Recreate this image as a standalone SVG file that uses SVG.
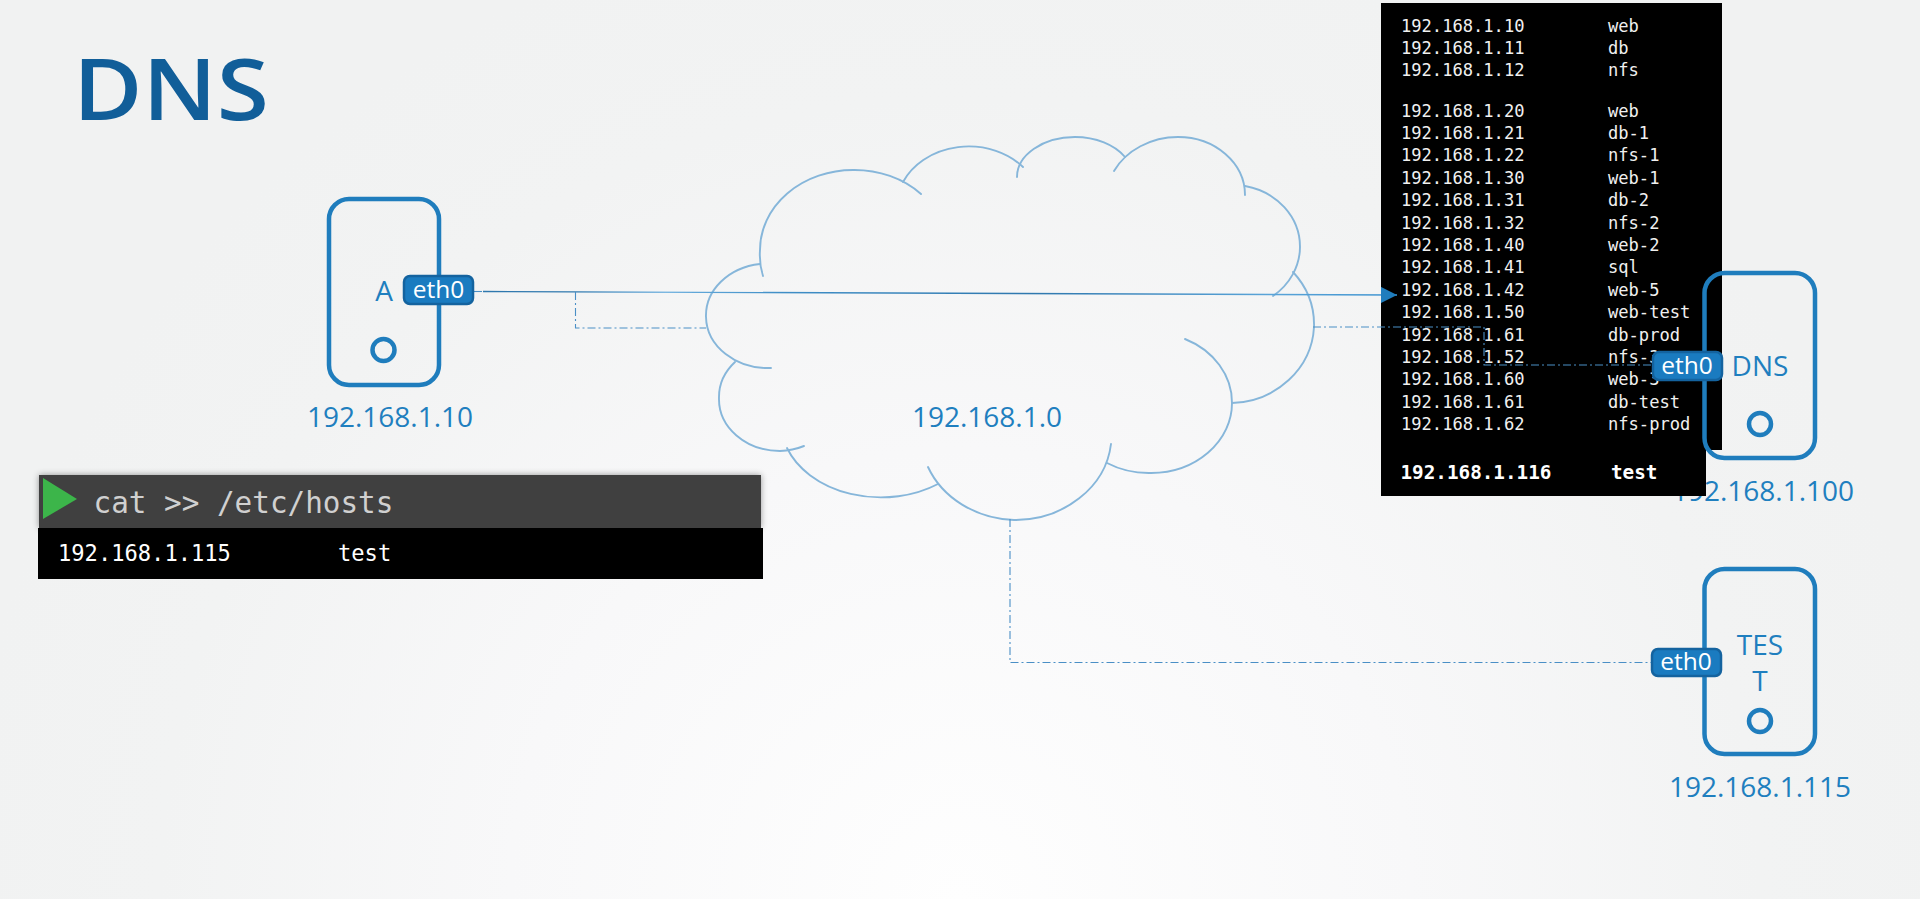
<svg xmlns="http://www.w3.org/2000/svg" width="1920" height="899" viewBox="0 0 1920 899">
<style>
.label{font-family:"Open Sans","Noto Sans",sans-serif;font-size:28px;fill:#1f7fbf;text-anchor:middle}
.box{fill:none;stroke:#1f7dbd;stroke-width:4.5}
.dot{fill:none;stroke:#1f7dbd;stroke-width:4.5}
.badge{fill:#1a7bc0;stroke:#14639f;stroke-width:2.5}
.bt{font-family:"Open Sans","Noto Sans",sans-serif;font-size:24.500px;fill:#fff;text-anchor:middle}
.hosts{font-family:"DejaVu Sans Mono","Liberation Mono",monospace;font-size:17.1px;fill:#f0f0f0}
.cloud{fill:none;stroke:#86b6da;stroke-width:1.9;stroke-linecap:round}
.dash{fill:none;stroke:#4a8fc6;stroke-width:1.1;stroke-dasharray:8 3 2 3}
</style>
<defs>
<radialGradient id="bg" gradientUnits="userSpaceOnUse" cx="960" cy="899" r="1000">
<stop offset="0" stop-color="#fefefe"/><stop offset="0.45" stop-color="#f8f8f9"/><stop offset="0.8" stop-color="#f2f3f3"/><stop offset="1" stop-color="#f1f2f2"/>
</radialGradient>
<linearGradient id="wire" gradientUnits="userSpaceOnUse" x1="483" y1="0" x2="1397" y2="0">
<stop offset="0" stop-color="#2f78ae"/><stop offset="0.1" stop-color="#2f78ae"/><stop offset="0.2" stop-color="#6aaede"/><stop offset="0.33" stop-color="#3f8ec6"/><stop offset="0.6" stop-color="#2f78ae"/><stop offset="0.86" stop-color="#5aa4d8"/><stop offset="1" stop-color="#3f94d0"/>
</linearGradient>
<filter id="sh" x="-5%" y="-30%" width="110%" height="160%"><feDropShadow dx="0" dy="0" stdDeviation="3" flood-color="#000" flood-opacity="0.4"/></filter>
<marker id="ah" markerUnits="userSpaceOnUse" markerWidth="18" markerHeight="18" refX="16" refY="8" orient="auto"><path d="M0,0L16,8L0,16Z" fill="#1f7dbd"/></marker>
</defs>
<rect width="1920" height="899" fill="url(#bg)"/>
<text x="73" y="120" font-family="'Open Sans','Noto Sans',sans-serif" font-size="85" font-weight="600" fill="#115e99" textLength="196" lengthAdjust="spacingAndGlyphs">DNS</text>
<g id="cloud">
<path class="cloud" d="M763,276A93,80 0 0 1 760,250A93,80 0 0 1 853,170A93,80 0 0 1 921,194"/>
<path class="cloud" d="M903,182A72,60 0 0 1 1023,167"/>
<path class="cloud" d="M1017,177A58,40 0 0 1 1075,137A58,40 0 0 1 1125,157"/>
<path class="cloud" d="M1114,171A72,62 0 0 1 1178,137A67,58 0 0 1 1245,195"/>
<path class="cloud" d="M1245,186A68,62 0 0 1 1300,247A68,62 0 0 1 1273,296"/>
<path class="cloud" d="M1293,272A85,80 0 0 1 1314,327A85,80 0 0 1 1232,403"/>
<path class="cloud" d="M1185,339A81,70 0 0 1 1232,403A81,70 0 0 1 1150,473A81,70 0 0 1 1107,463"/>
<path class="cloud" d="M1111,444A97,85 0 0 1 1014,520A97,85 0 0 1 928,467"/>
<path class="cloud" d="M938,484A100,75 0 0 1 787,448"/>
<path class="cloud" d="M804,446A61,52 0 0 1 780,451A61,52 0 0 1 719,398A61,52 0 0 1 735,362"/>
<path class="cloud" d="M771,368A62,52 0 0 1 706,317A62,52 0 0 1 760,264"/>
<text class="label" x="987" y="427">192.168.1.0</text>
</g>
<g id="node-dns-ip"><text class="label" x="1763" y="501">192.168.1.100</text></g>
<g id="hosts-panel">
<path d="M1381,3H1722V450H1706V496H1381Z" fill="#000"/>
<g class="hosts">
<text x="1401" y="32">192.168.1.10</text><text x="1608" y="32">web</text>
<text x="1401" y="54">192.168.1.11</text><text x="1608" y="54">db</text>
<text x="1401" y="76">192.168.1.12</text><text x="1608" y="76">nfs</text>
<text x="1401" y="117">192.168.1.20</text><text x="1608" y="117">web</text>
<text x="1401" y="139">192.168.1.21</text><text x="1608" y="139">db-1</text>
<text x="1401" y="161">192.168.1.22</text><text x="1608" y="161">nfs-1</text>
<text x="1401" y="184">192.168.1.30</text><text x="1608" y="184">web-1</text>
<text x="1401" y="206">192.168.1.31</text><text x="1608" y="206">db-2</text>
<text x="1401" y="229">192.168.1.32</text><text x="1608" y="229">nfs-2</text>
<text x="1401" y="251">192.168.1.40</text><text x="1608" y="251">web-2</text>
<text x="1401" y="273">192.168.1.41</text><text x="1608" y="273">sql</text>
<text x="1401" y="296">192.168.1.42</text><text x="1608" y="296">web-5</text>
<text x="1401" y="318">192.168.1.50</text><text x="1608" y="318">web-test</text>
<text x="1401" y="341">192.168.1.61</text><text x="1608" y="341">db-prod</text>
<text x="1401" y="363">192.168.1.52</text><text x="1608" y="363">nfs-3</text>
<text x="1401" y="385">192.168.1.60</text><text x="1608" y="385">web-3</text>
<text x="1401" y="408">192.168.1.61</text><text x="1608" y="408">db-test</text>
<text x="1401" y="430">192.168.1.62</text><text x="1608" y="430">nfs-prod</text>
<text x="1400.500" y="479" font-size="19.300" font-weight="700" fill="#fff">192.168.1.116</text><text x="1611" y="479" font-size="19.300" font-weight="700" fill="#fff">test</text>
</g>
</g>
<g id="connectors">
<path d="M474,291.500H483" class="dash"/>
<path d="M483,291.500L1397,295" fill="none" stroke="url(#wire)" stroke-width="1.400" marker-end="url(#ah)"/>
<path class="dash" d="M575.500,292V328H706"/>
<path class="dash" d="M1313,327H1484V365H1652"/>
<path class="dash" d="M1010,519V662.500H1652"/>
</g>
<g id="node-a">
<rect class="box" x="329" y="199" width="110" height="186" rx="20"/>
<circle class="dot" cx="383.500" cy="350" r="11"/>
<text class="label" x="384" y="301">A</text>
<rect class="badge" x="404" y="276" width="69" height="28" rx="6"/>
<text class="bt" x="438.500" y="298">eth0</text>
<text class="label" x="390" y="427">192.168.1.10</text>
</g>
<g id="node-dns">
<rect class="box" x="1704.500" y="273" width="110.500" height="185" rx="20"/>
<circle class="dot" cx="1760" cy="424" r="11"/>
<text class="label" x="1760" y="376">DNS</text>
<rect class="badge" x="1653" y="352" width="69" height="28" rx="6"/>
<text class="bt" x="1687" y="374">eth0</text>
</g>
<g id="node-test">
<rect class="box" x="1704.500" y="569" width="110.500" height="185" rx="20"/>
<circle class="dot" cx="1760" cy="721" r="11"/>
<text class="label" x="1760" y="655">TES</text>
<text class="label" x="1760" y="691">T</text>
<rect class="badge" x="1652" y="649" width="69" height="27" rx="6"/>
<text class="bt" x="1686" y="670">eth0</text>
<text class="label" x="1760" y="797">192.168.1.115</text>
</g>
<g id="terminal">
<rect x="39" y="475" width="722" height="53" fill="#404040" filter="url(#sh)"/>
<rect x="38" y="528" width="725" height="51" fill="#000"/>
<path d="M43,478L77,499L43,519Z" fill="#3cb54a"/>
<text x="93.500" y="513" font-family="'DejaVu Sans Mono','Liberation Mono',monospace" font-size="29.300" fill="#d0d0d0">cat &gt;&gt; /etc/hosts</text>
<text x="58" y="561" font-family="'DejaVu Sans Mono','Liberation Mono',monospace" font-size="22.100" fill="#fff">192.168.1.115</text>
<text x="338" y="561" font-family="'DejaVu Sans Mono','Liberation Mono',monospace" font-size="22.100" fill="#fff">test</text>
</g>
</svg>
